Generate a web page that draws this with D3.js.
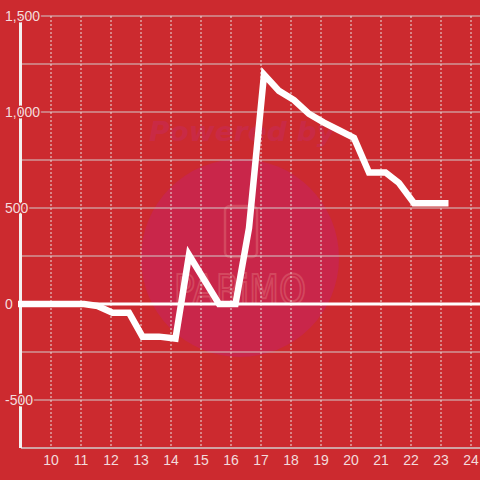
<!DOCTYPE html>
<html>
<head>
<meta charset="utf-8">
<script src="https://cdn.jsdelivr.net/npm/d3@7"></script>
<style>
  body { margin: 0; background: #cc2a2f; }
  svg { display: block; font-family: "Liberation Sans", Arial, sans-serif; }
</style>
</head>
<body>
<div id="chart"></div>
<script>
// values
const xValues = [8.9, 11.1, 11.55, 12.05, 12.6, 13.05, 13.6, 14.15, 14.6, 15.6, 16.15, 16.6,
                 17.1, 17.6, 18.1, 18.6, 19.1, 19.6, 20.1, 20.6, 21.15, 21.6, 22.1, 23.25];
const yValues = [0, 0, -10, -45, -45, -170, -170, -180, 255, 0, 0, 395,
                 1195, 1110, 1062, 990, 945, 905, 865, 685, 685, 630, 525, 525];
const xTicks = [10, 11, 12, 13, 14, 15, 16, 17, 18, 19, 20, 21, 22, 23, 24];
const yGrid = [1500, 1250, 1000, 750, 500, 250, -250, -500];
const yTicks = [1500, 1000, 500, 0, -500];

var width = 480,
    height = 480;

var bg = "#cc2a2f",
    textColor = "#f3dcdc";

var x = d3.scaleLinear().domain([9, 24.3]).range([21, 480]);
var y = d3.scaleLinear().domain([-750, 1500]).range([448, 16]);

var svg = d3.select("#chart").append("svg")
    .attr("width", width)
    .attr("height", height);

svg.append("rect")
    .attr("width", width)
    .attr("height", height)
    .attr("fill", bg);

// watermark
var wm = svg.append("g");
wm.append("circle")
    .attr("cx", 240).attr("cy", 258).attr("r", 99)
    .attr("fill", "#c9264a");
wm.append("text")
    .attr("x", 149).attr("y", 141)
    .attr("font-family", "DejaVu Sans")
    .attr("font-size", 26)
    .attr("font-weight", "bold")
    .attr("font-style", "italic")
    .attr("textLength", 186)
    .attr("lengthAdjust", "spacingAndGlyphs")
    .attr("fill", "#c92a45")
    .text("Powered by");
wm.append("rect")
    .attr("x", 225).attr("y", 206).attr("width", 32).attr("height", 51).attr("rx", 5)
    .attr("fill", "none")
    .attr("stroke", "#d3485f")
    .attr("stroke-width", 2.5);
wm.append("text")
    .attr("x", 174).attr("y", 304)
    .attr("font-family", "DejaVu Sans")
    .attr("font-size", 40)
    .attr("textLength", 132)
    .attr("lengthAdjust", "spacingAndGlyphs")
    .attr("fill", "none")
    .attr("stroke", "#d3485f")
    .attr("stroke-width", 2)
    .text("PARiMO");

// horizontal grid
svg.append("g")
    .selectAll("line")
    .data(yGrid)
    .enter()
    .append("line")
    .attr("x1", x(9)).attr("x2", width)
    .attr("y1", d => y(d)).attr("y2", d => y(d))
    .attr("stroke", "#d2cccc")
    .attr("stroke-width", 1);

// vertical dashed grid
svg.append("g")
    .selectAll("line")
    .data(xTicks)
    .enter()
    .append("line")
    .attr("x1", d => x(d)).attr("x2", d => x(d))
    .attr("y1", y(1500)).attr("y2", y(-750))
    .attr("stroke", "#e8e0e0")
    .attr("stroke-width", 1)
    .attr("stroke-dasharray", "2,2");

// x axis line
svg.append("line")
    .attr("x1", x(9)).attr("x2", width)
    .attr("y1", y(-750)).attr("y2", y(-750))
    .attr("stroke", "#d2cccc")
    .attr("stroke-width", 1.5);

// zero line
svg.append("line")
    .attr("x1", x(9)).attr("x2", width)
    .attr("y1", y(0)).attr("y2", y(0))
    .attr("stroke", "#ffffff")
    .attr("stroke-width", 3);

// y axis line
svg.append("line")
    .attr("x1", x(9) - 0.5).attr("x2", x(9) - 0.5)
    .attr("y1", y(1500)).attr("y2", y(-750))
    .attr("stroke", "#f4f0f0")
    .attr("stroke-width", 3);

// data line
var line = d3.line()
    .x((d, i) => x(xValues[i]))
    .y(d => y(d));

svg.append("path")
    .datum(yValues)
    .attr("d", line)
    .attr("fill", "none")
    .attr("stroke", "#ffffff")
    .attr("stroke-width", 6.5)
    .attr("stroke-linejoin", "miter")
    .attr("stroke-linecap", "butt");

// y labels
var fmt = d3.format(",");
svg.append("g")
    .selectAll("text")
    .data(yTicks)
    .enter()
    .append("text")
    .attr("x", 5)
    .attr("y", d => y(d))
    .attr("dy", "0.35em")
    .attr("font-size", 14)
    .attr("fill", textColor)
    .attr("stroke", bg)
    .attr("stroke-width", 3)
    .attr("paint-order", "stroke")
    .text(d => fmt(d).replace("\u2212", "-"));

// x labels
svg.append("g")
    .selectAll("text")
    .data(xTicks)
    .enter()
    .append("text")
    .attr("x", d => x(d))
    .attr("y", 465)
    .attr("text-anchor", "middle")
    .attr("font-size", 14)
    .attr("fill", textColor)
    .text(d => d);
</script>
</body>
</html>
